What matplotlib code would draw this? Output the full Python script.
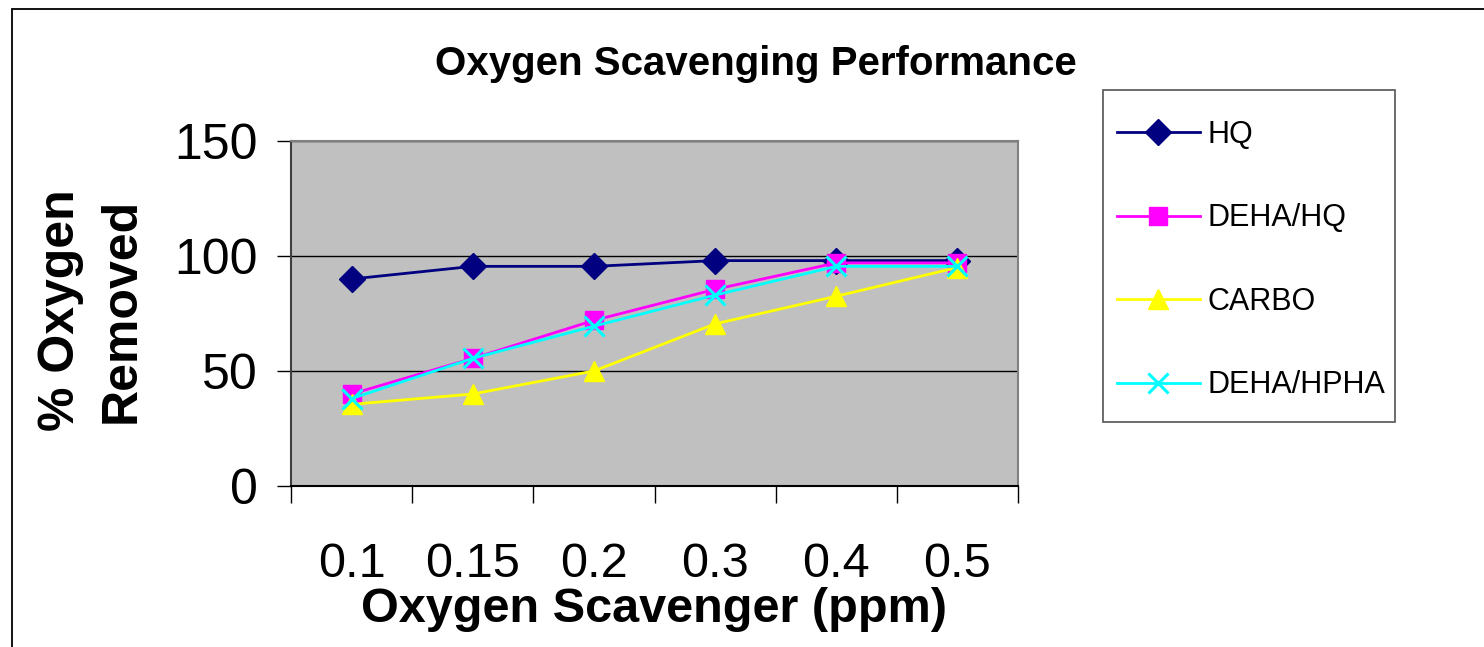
import numpy as np
import matplotlib
matplotlib.use("Agg")
import matplotlib.pyplot as plt
from matplotlib.patches import Rectangle

plt.rcParams['font.family'] = ['Liberation Sans', 'DejaVu Sans']

# data
doses = ['0.1', '0.15', '0.2', '0.3', '0.4', '0.5']
hq = [90, 95.5, 95.5, 98, 98, 98]
deha_hq = [40, 55.5, 72, 85.5, 97, 97]
carbo = [35.5, 40, 50, 70.5, 82.5, 95]
deha_hpha = [38, 55.5, 69.5, 83, 95.5, 95.5]

W, H = 1484, 647
fig = plt.figure(figsize=(W / 100, H / 100), dpi=100)

# outer frame (only left/top edges visible in the reference)
fig.patches.append(Rectangle((12 / W, -0.1), 1.2, 1 - 9 / H + 0.1,
                             transform=fig.transFigure, fill=False,
                             edgecolor='black', linewidth=1.3))

ax = fig.add_axes([291 / W, 1 - 486 / H, (1018 - 291) / W, (486 - 141) / H])
ax.set_facecolor('#C0C0C0')

x = np.arange(len(doses))
ax.plot(x, hq, color='#000080', lw=2, marker='D', ms=13, label='HQ', zorder=3)
ax.plot(x, deha_hq, color='#FF00FF', lw=2, marker='s', ms=13, label='DEHA/HQ', zorder=3)
ax.plot(x, carbo, color='#FFFF00', lw=2, marker='^', ms=15, label='CARBO', zorder=3)
ax.plot(x, deha_hpha, color='#00FFFF', lw=2, marker='x', ms=14, mew=2.2,
        label='DEHA/HPHA', zorder=4)

ax.set_xlim(-0.5, len(doses) - 0.5)
ax.set_ylim(0, 150)
ax.set_yticks([0, 50, 100, 150])
ax.yaxis.grid(True, color='black', lw=1)
ax.set_axisbelow(True)

ax.set_xticks(x)
ax.set_xticklabels(doses, fontsize=35)
ax.set_xticks(np.arange(-0.5, len(doses)), minor=True)
ax.tick_params(axis='x', which='major', length=0, pad=40)
ax.tick_params(axis='x', which='minor', length=12, width=1, color='black')
ax.tick_params(axis='y', length=10, width=1, labelsize=36, pad=14)

for s in ['top', 'right']:
    ax.spines[s].set_color('#808080')
    ax.spines[s].set_linewidth(1.5)
ax.spines['left'].set_color('#404040')
ax.spines['left'].set_linewidth(1.5)
ax.spines['bottom'].set_color('black')
ax.spines['bottom'].set_linewidth(1.5)

fig.text(756 / W, 1 - 64 / H, 'Oxygen Scavenging Performance',
         ha='center', va='center', fontsize=29, fontweight='bold')
fig.text(654 / W, 1 - 609 / H, 'Oxygen Scavenger (ppm)',
         ha='center', va='center', fontsize=35, fontweight='bold')
fig.text(91 / W, 1 - 310 / H, '% Oxygen\nRemoved', rotation=90,
         ha='center', va='center', fontsize=36, fontweight='bold',
         linespacing=1.4)

# legend box drawn separately so the inner layout can be tuned
fig.patches.append(Rectangle((1103 / W, 1 - 422 / H), (1395 - 1103) / W,
                             (422 - 90) / H, transform=fig.transFigure,
                             fill=False, edgecolor='#606060', linewidth=1.3))
leg = fig.legend(loc='upper left', bbox_to_anchor=(1117 / W, 1 - 120 / H),
                 fontsize=22, frameon=False, handlelength=2.7,
                 labelspacing=1.75, borderpad=0, handletextpad=0.25,
                 borderaxespad=0)

fig.savefig('out.png', dpi=100)
